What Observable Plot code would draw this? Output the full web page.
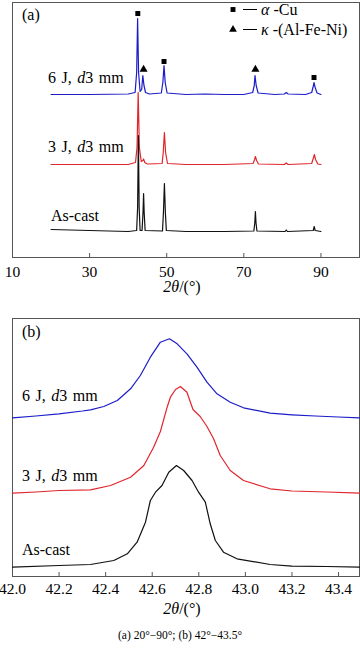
<!DOCTYPE html>
<html><head><meta charset="utf-8">
<script src="https://cdn.jsdelivr.net/npm/d3@7"></script>
<script src="https://cdn.jsdelivr.net/npm/@observablehq/plot@0.6"></script>
<style>
body{margin:0;background:#fff;font-family:"Liberation Serif",serif;}
#wrap{width:360px;}
#wrap svg{display:block;}
.cap{width:360px;text-align:center;font-size:11.5px;line-height:14px;margin-top:8px;color:#000;}
</style></head><body><div id="wrap"></div>
<script>
// ---------- Panel (a): 2θ 20°–90° (intensity in arbitrary units) ----------
const ticksA = [10, 30, 50, 70, 90];
const a_6J = [[20,163],[30,163],[40,163.5],[41.8,165],[42.2,185],[42.45,239],[42.7,185],[43.1,166],[43.5,168],[43.8,182],[44.1,172],[44.5,165],[45.5,163.5],[48.6,164.5],[49.0,175],[49.3,192],[49.6,175],[50.1,164.5],[55,163],[60,163.5],[65,163],[70,163],[72.3,165],[72.7,172],[72.9,182],[73.2,172],[73.7,164.5],[78,163],[80.5,163.5],[81.0,165],[81.5,163.5],[86,163],[87.6,165],[88.0,171],[88.2,175],[88.5,170],[89,164.5],[90,163]];
const a_3J = [[20,93],[30,93],[40,93],[41.9,95],[42.3,110],[42.6,165],[42.9,110],[43.4,96],[43.8,97],[44.0,98.5],[44.3,95],[45,93.5],[48.8,94],[49.1,105],[49.4,125],[49.7,105],[50.2,94],[55,93],[65,93],[72.4,94],[72.8,98],[73.0,101],[73.3,97],[73.8,93.5],[80.5,93],[81,94.5],[81.5,93],[87.6,94],[88.0,99],[88.3,103],[88.6,98],[89.2,93.5],[90,93]];
const a_cast = [[20,28],[25,27.5],[30,27],[35,26.5],[40,26],[42.2,27],[42.45,50],[42.65,122],[42.85,50],[43.1,27],[43.6,27],[43.85,45],[44.0,64],[44.15,45],[44.4,27],[48.9,26.5],[49.15,45],[49.4,74],[49.65,45],[49.9,27],[55,26],[65,26],[72.6,26.5],[72.85,35],[73.0,46],[73.15,35],[73.4,26.5],[80.7,26],[81,27.5],[81.3,26],[88.0,27],[88.25,31],[88.5,27],[90,26]];
const markCu = [[42.5,244],[49.3,196],[88.2,180]];       // α-Cu peaks
const markKappa = [[44.0,188],[73.0,188]];             // κ-(Al-Fe-Ni) peaks

// ---------- Panel (b): 2θ 42°–43.5° ----------
const ticksB = [42.0, 42.2, 42.4, 42.6, 42.8, 43.0, 43.2, 43.4];
const b_6J = [[42.00,158.7],[42.10,160.5],[42.20,162.7],[42.30,165.5],[42.335,166.7],[42.392,170],[42.45,176],[42.507,187.7],[42.549,201],[42.592,219.3],[42.635,234.3],[42.674,237.7],[42.707,232.7],[42.749,222.7],[42.792,209.3],[42.835,194.3],[42.878,182.7],[42.935,174.3],[42.992,168.7],[43.106,163.3],[43.2,161.7],[43.3,160.5],[43.4,159.5],[43.49,158.7]];
const b_3J = [[42.00,83.3],[42.10,84.5],[42.20,86],[42.335,86.7],[42.421,91],[42.507,99.3],[42.564,111],[42.606,129.3],[42.635,145],[42.664,169.3],[42.678,179.3],[42.70,187],[42.721,190],[42.749,184.3],[42.775,167],[42.806,160],[42.835,150],[42.863,138],[42.892,121],[42.935,106],[42.992,96],[43.106,87.7],[43.2,85.5],[43.35,84.5],[43.49,83.3]];
const b_cast = [[42.00,9.3],[42.20,11],[42.335,12],[42.435,16],[42.493,22.7],[42.535,34.3],[42.571,54.3],[42.592,76],[42.614,84.3],[42.642,91],[42.671,104.3],[42.704,111],[42.735,106],[42.771,96],[42.799,84.3],[42.828,74.3],[42.849,52.7],[42.871,36],[42.906,24.3],[42.964,17.7],[43.106,12],[43.2,10.3],[43.35,10],[43.49,9.3]];

const seriesLabels = [[["6 J, ",false],["d",true],["3 mm",false]],[["3 J, ",false],["d",true],["3 mm",false]],[["As-cast",false]]];
const legendItems = [["square",[["α",true],[" -Cu",false]]],["triangle",[["κ",true],[" -(Al-Fe-Ni)",false]]]];
const axisTitle = [["2",true],["θ",true],["/(°)",false]];
const caption = "(a) 20°−90°; (b) 42°−43.5°";

const BLUE = "#1c1cc8", RED = "#e0262c", BLACK = "#111", FRAME = "#555";
const FONT = "Liberation Serif";

function addText(svg, x, y, parts, size, anchor, spacing) {
  const t = svg.append("text").attr("x", x).attr("y", y)
    .attr("font-family", FONT).attr("font-size", size).attr("fill", "#000")
    .attr("text-anchor", anchor || "start");
  if (spacing) t.attr("word-spacing", spacing);
  parts.forEach(([s, it]) => t.append("tspan").attr("font-style", it ? "italic" : "normal").text(s));
  return t;
}

const line = (data, stroke) => Plot.line(data, {x: d => d[0], y: d => d[1], stroke, strokeWidth: 1.2});

const plotA = Plot.plot({
  width: 360, height: 300,
  marginTop: 2, marginBottom: 43, marginLeft: 12, marginRight: 1,
  style: {fontFamily: FONT, fontSize: "15px", color: "#000", background: "#fff"},
  x: {domain: [10, 100], label: null},
  y: {domain: [0, 255], axis: null},
  marks: [
    Plot.frame({stroke: FRAME}),
    Plot.axisX(ticksA, {tickSize: -4, tickFormat: () => "", stroke: FRAME, label: null}),
    Plot.axisX(ticksA, {tickSize: 0, tickPadding: 8, fontSize: 15.5, label: null}),
    line(a_3J, RED),
    line(a_cast, BLACK),
    line(a_6J, BLUE),
    Plot.dot(markCu, {x: d => d[0], y: d => d[1], symbol: "square", r: 2.8, fill: "#000", stroke: "none"}),
    Plot.dot(markKappa, {x: d => d[0], y: d => d[1], symbol: "triangle", r: 3, fill: "#000", stroke: "none"})
  ]
});

const plotB = Plot.plot({
  width: 360, height: 320,
  marginTop: 18, marginBottom: 44, marginLeft: 12, marginRight: 1,
  style: {fontFamily: FONT, fontSize: "15px", color: "#000", background: "#fff"},
  x: {domain: [42, 43.49], label: null},
  y: {domain: [0, 258], axis: null},
  marks: [
    Plot.frame({stroke: FRAME}),
    Plot.axisX(ticksB, {tickSize: -4, tickFormat: () => "", stroke: FRAME, label: null}),
    Plot.axisX(ticksB, {tickSize: 0, tickPadding: 6, fontSize: 15.5, tickFormat: d => d.toFixed(1), label: null}),
    line(b_3J, RED),
    line(b_cast, BLACK),
    line(b_6J, BLUE)
  ]
});

const wrap = document.getElementById("wrap");
wrap.appendChild(plotA);
wrap.appendChild(plotB);

const sa = d3.select(plotA);
addText(sa, 22, 20, [["(a)", false]], 16);
addText(sa, 48, 83, seriesLabels[0], 16, null, 1.5);
addText(sa, 48, 152, seriesLabels[1], 16, null, 1.5);
addText(sa, 51, 221, seriesLabels[2], 16);
addText(sa, 182, 292, axisTitle, 16, "middle");
// legend
legendItems.forEach(([sym, parts], i) => {
  const cy = 9.5 + i * 20;
  const g = sa.append("g");
  g.append("path").attr("transform", `translate(233,${cy})`)
    .attr("d", d3.symbol(sym === "square" ? d3.symbolSquare : d3.symbolTriangle, sym === "square" ? 24 : 26)())
    .attr("fill", "#000");
  g.append("line").attr("x1", 243).attr("x2", 257).attr("y1", cy).attr("y2", cy).attr("stroke", "#000").attr("stroke-width", 1);
  addText(sa, 261, cy + 5.5, parts, 16);
});

const sb = d3.select(plotB);
addText(sb, 22, 37, [["(b)", false]], 16);
addText(sb, 22, 101, seriesLabels[0], 16, null, 1.5);
addText(sb, 22, 181, seriesLabels[1], 16, null, 1.5);
addText(sb, 22, 255, seriesLabels[2], 16);
addText(sb, 182, 314, axisTitle, 16, "middle");

const cap = document.createElement("div");
cap.className = "cap";
cap.textContent = caption;
wrap.appendChild(cap);
</script></body></html>
